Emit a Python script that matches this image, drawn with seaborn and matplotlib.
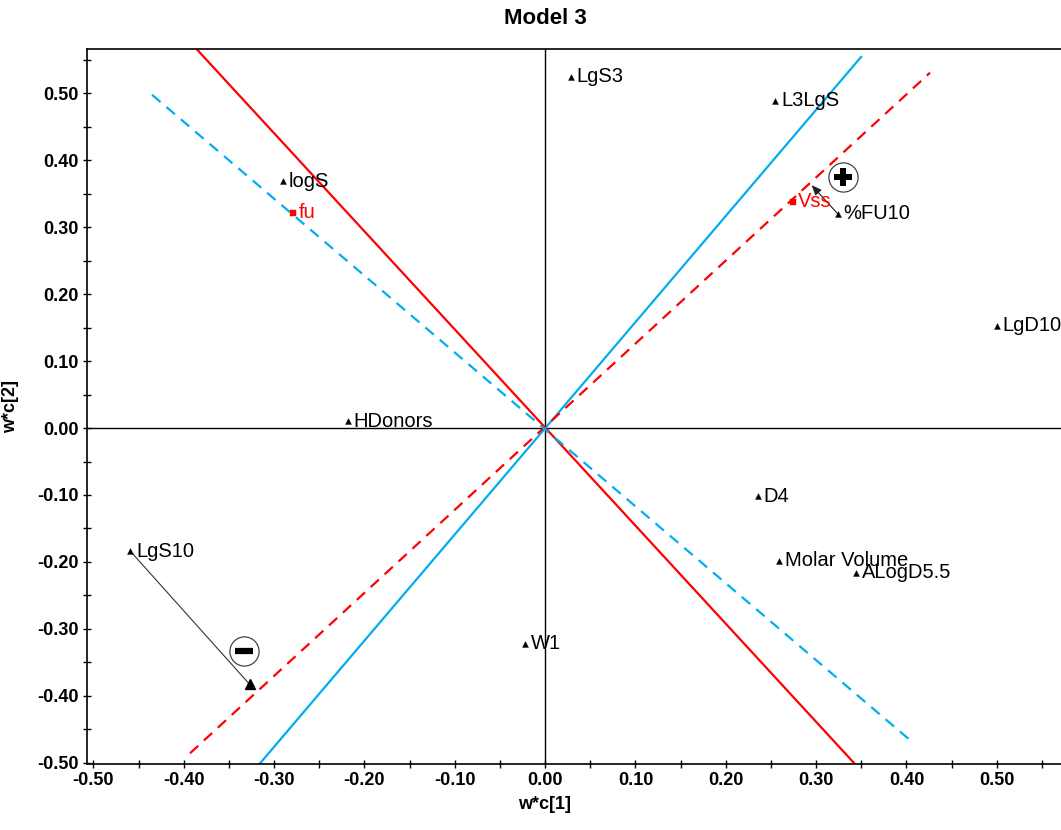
import numpy as np
import pandas as pd
import matplotlib
matplotlib.use("Agg")
import matplotlib.pyplot as plt
import seaborn as sns

# ---- data ----
var_names = ["LgS3", "L3LgS", "logS", "%FU10", "LgD10", "HDonors", "D4",
             "Molar Volume", "ALogD5.5", "LgS10", "W1"]
var_x = [0.029, 0.255, -0.290, 0.324, 0.500, -0.218, 0.236, 0.259, 0.344, -0.459, -0.022]
var_y = [0.525, 0.489, 0.369, 0.320, 0.153, 0.010, -0.102, -0.198, -0.216, -0.184, -0.322]

resp_names = ["fu", "Vss"]
resp_x = [-0.279, 0.274]
resp_y = [0.322, 0.338]

# reference lines (two end points each)
red_solid_x = [-0.395, 0.345]
red_solid_y = [0.580, -0.505]
blue_solid_x = [-0.318, 0.350]
blue_solid_y = [-0.505, 0.555]
red_dash_x = [-0.393, 0.426]
red_dash_y = [-0.486, 0.531]
blue_dash_x = [-0.435, 0.408]
blue_dash_y = [0.498, -0.471]

# arrows (start -> end) and sign markers
arrow_plus = [(0.324, 0.320), (0.295, 0.363)]
arrow_minus = [(-0.459, -0.184), (-0.327, -0.383)]
plus_pos = (0.330, 0.375)
minus_pos = (-0.333, -0.333)

xticks = [-0.5, -0.4, -0.3, -0.2, -0.1, 0.0, 0.1, 0.2, 0.3, 0.4, 0.5]
yticks = [-0.5, -0.4, -0.3, -0.2, -0.1, 0.0, 0.1, 0.2, 0.3, 0.4, 0.5]

# ---- style ----
sns.set_style("white")
plt.rcParams["font.family"] = ["Liberation Sans", "DejaVu Sans"]
plt.rcParams["text.color"] = "black"
plt.rcParams["axes.labelcolor"] = "black"
plt.rcParams["xtick.color"] = "black"
plt.rcParams["ytick.color"] = "black"

RED = "#FF0000"
BLUE = "#00AEEF"

fig = plt.figure(figsize=(10.61, 8.30), dpi=100)
ax = fig.add_axes([87 / 1061, 1 - 764 / 830, (1061 - 87) / 1061, (764 - 49.3) / 830])

ax.set_xlim(-0.507, 0.571)
ax.set_ylim(-0.502, 0.566)

# zero lines
ax.axhline(0, color="black", lw=1.0, zorder=1)
ax.axvline(0, color="black", lw=1.0, zorder=1)

def line(xs, ys, color, dashed):
    df = pd.DataFrame({"x": xs, "y": ys})
    sns.lineplot(data=df, x="x", y="y", ax=ax, color=color, lw=1.6,
                 estimator=None, sort=False,
                 linestyle=(0, (5, 3.5)) if dashed else "-", zorder=2)

line(red_solid_x, red_solid_y, RED, False)
line(blue_solid_x, blue_solid_y, BLUE, False)
line(red_dash_x, red_dash_y, RED, True)
line(blue_dash_x, blue_dash_y, BLUE, True)

# variables
vdf = pd.DataFrame({"x": var_x, "y": var_y, "name": var_names})
sns.scatterplot(data=vdf, x="x", y="y", marker="^", s=18, color="black",
                edgecolor="black", linewidth=0.3, ax=ax, zorder=4)
for n, x, y in zip(var_names, var_x, var_y):
    ax.annotate(n, (x, y), xytext=(4, 0), textcoords="offset points",
                ha="left", va="center", fontsize=14.5, color="black", zorder=5)

rdf = pd.DataFrame({"x": resp_x, "y": resp_y, "name": resp_names})
sns.scatterplot(data=rdf, x="x", y="y", marker="s", s=18, color=RED,
                edgecolor=RED, linewidth=0.3, ax=ax, zorder=4)
for n, x, y in zip(resp_names, resp_x, resp_y):
    ax.annotate(n, (x, y), xytext=(4, 0), textcoords="offset points",
                ha="left", va="center", fontsize=14.5, color=RED, zorder=5)

# arrows
ax.annotate("", xy=arrow_plus[1], xytext=arrow_plus[0],
            arrowprops=dict(arrowstyle="-|>,head_length=0.6,head_width=0.25",
                            color="#222222", lw=0.8, shrinkA=0, shrinkB=0), zorder=3)
ax.plot([arrow_minus[0][0], arrow_minus[1][0]], [arrow_minus[0][1], arrow_minus[1][1]],
        color="#333333", lw=0.8, zorder=3)
ax.plot([arrow_minus[1][0]], [arrow_minus[1][1]], marker="^", ms=7, color="black", zorder=4)

# sign circles
for pos, sym in [(plus_pos, "P"), (minus_pos, "_")]:
    ax.plot([pos[0]], [pos[1]], marker="o", ms=21, mfc="white", mec="#444444", mew=0.9, zorder=5)
    if sym == "P":
        ax.plot([pos[0]], [pos[1]], marker="P", ms=13, color="black", mew=0, zorder=6)
    else:
        ax.plot([pos[0]], [pos[1]], marker="_", ms=13, color="black", mew=4.5, zorder=6)

# axes styling
ax.set_xticks(xticks)
ax.set_yticks(yticks)
ax.set_xticklabels([f"{v:.2f}" for v in xticks], fontsize=13, fontweight="bold")
ax.set_yticklabels([f"{v:.2f}" for v in yticks], fontsize=13, fontweight="bold")
ax.set_xticks(np.arange(-0.45, 0.56, 0.1), minor=True)
ax.set_yticks(np.arange(-0.45, 0.56, 0.1), minor=True)
ax.tick_params(which="both", direction="inout", length=6, width=1.0, color="black",
               bottom=True, left=True, pad=3)
for s in ["left", "bottom", "top"]:
    ax.spines[s].set_visible(True)
    ax.spines[s].set_color("black")
    ax.spines[s].set_linewidth(1.2)
ax.spines["right"].set_visible(False)
ax.grid(False)

ax.set_xlabel("w*c[1]", fontsize=13, fontweight="bold")
ax.set_ylabel("w*c[2]", fontsize=13, fontweight="bold")
ax.xaxis.set_label_coords((545 - 87) / (1061 - 87), -0.045)
ax.yaxis.set_label_coords(-0.07, 0.5)

fig.text(545 / 1061, 1 - 18 / 830, "Model 3", ha="center", va="center",
         fontsize=16, fontweight="bold")

fig.savefig("out.png", dpi=100)
